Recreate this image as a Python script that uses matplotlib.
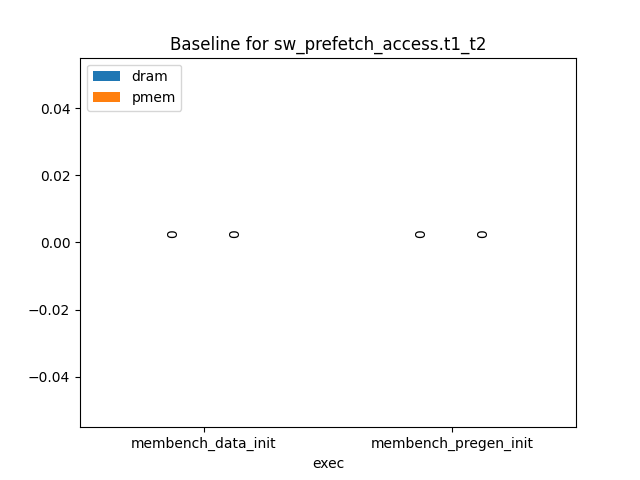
import matplotlib
matplotlib.use("Agg")
import matplotlib.pyplot as plt
import pandas as pd

execs = ["membench_data_init", "membench_pregen_init"]
dram = [0, 0]
pmem = [0, 0]

df = pd.DataFrame({"dram": dram, "pmem": pmem}, index=pd.Index(execs, name="exec"))
fig, ax = plt.subplots(figsize=(6.4, 4.8), dpi=100)
df.plot.bar(ax=ax, rot=0)
for c in ax.containers:
    ax.bar_label(c, rotation=90, padding=3)
ax.set_title("Baseline for sw_prefetch_access.t1_t2")
ax.legend(loc="upper left")
fig.savefig("out.png")
